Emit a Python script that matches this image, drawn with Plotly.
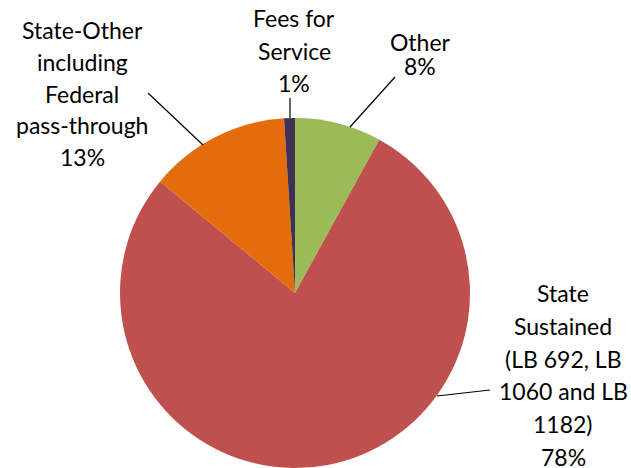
import plotly.graph_objects as go

W, H = 631, 468

labels = ["Other", "State Sustained (LB 692, LB 1060 and LB 1182)",
          "State-Other including Federal pass-through", "Fees for Service"]
values = [8, 78, 13, 1]
colors = ["#9BBB59", "#C0504D", "#E46C0A", "#403152"]
label_lines = [["Other", "8%"],
               ["State", "Sustained", "(LB 692, LB", "1060 and LB", "1182)", "78%"],
               ["State-Other", "including", "Federal", "pass-through", "13%"],
               ["Fees for", "Service", "1%"]]

# layout helpers (pixels -> paper)
def px(x):
    return x / W
def py(y):
    return 1 - y / H

cx, cy, r = 295, 293, 175

fig = go.Figure(go.Pie(
    labels=labels, values=values, sort=False, direction="clockwise", rotation=0,
    marker=dict(colors=colors, line=dict(width=0)),
    textinfo="none", hoverinfo="label+percent", showlegend=False,
    domain=dict(x=[px(cx - r), px(cx + r)], y=[py(cy + r), py(cy - r)]),
))

font = dict(family="Lato, Carlito, sans-serif", size=23, color="#000000")
# label layout: center x, first line center y, line step (pixels)
label_layout = [(420, 42, 24), (563, 293, 32.8), (82, 30, 31.8), (294, 18, 32.5)]
for lines, (x, y0, step) in zip(label_lines, label_layout):
    for i, t in enumerate(lines):
        fig.add_annotation(text=t, x=px(x), y=py(y0 + i * step), xref="paper", yref="paper",
                           xanchor="center", yanchor="middle", showarrow=False,
                           font=font, align="center")

leaders = [((395, 77), (350, 127)), ((490, 390), (437, 396)),
           ((148, 93), (203, 145)), ((290, 98), (290, 118))]
for (x0, y0), (x1, y1) in leaders:
    fig.add_shape(type="line", xref="paper", yref="paper",
                  x0=px(x0), y0=py(y0), x1=px(x1), y1=py(y1),
                  line=dict(color="#000000", width=1.2))

fig.update_layout(width=W, height=H, margin=dict(l=0, r=0, t=0, b=0),
                  paper_bgcolor="white", plot_bgcolor="white")
fig.write_html("out.html")
